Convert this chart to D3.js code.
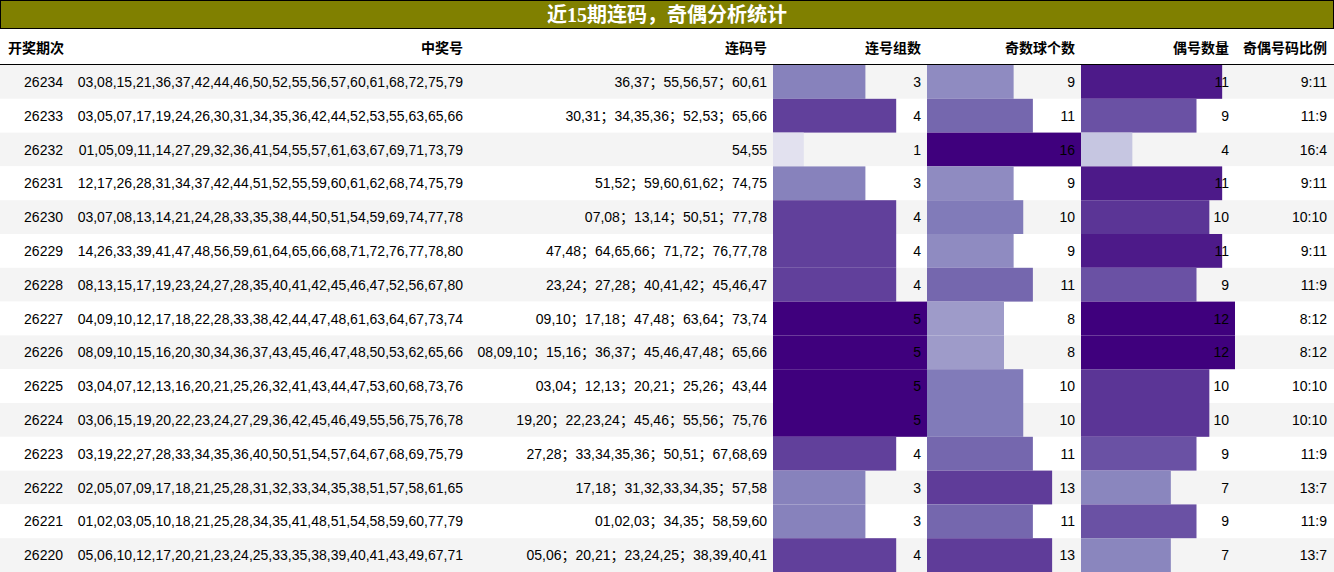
<!DOCTYPE html>
<html><head><meta charset="utf-8">
<script src="https://cdn.jsdelivr.net/npm/d3@7"></script>
<style>
body{margin:0;background:#fff;}
text{font-family:"Liberation Sans","Noto Sans CJK SC",sans-serif;font-size:14px;fill:#000;}
</style></head>
<body><svg id="chart" width="1334" height="572"></svg>
<script>
var periods = [26234,26233,26232,26231,26230,26229,26228,26227,26226,26225,26224,26223,26222,26221,26220];
var draws = [
  "03,08,15,21,36,37,42,44,46,50,52,55,56,57,60,61,68,72,75,79",
  "03,05,07,17,19,24,26,30,31,34,35,36,42,44,52,53,55,63,65,66",
  "01,05,09,11,14,27,29,32,36,41,54,55,57,61,63,67,69,71,73,79",
  "12,17,26,28,31,34,37,42,44,51,52,55,59,60,61,62,68,74,75,79",
  "03,07,08,13,14,21,24,28,33,35,38,44,50,51,54,59,69,74,77,78",
  "14,26,33,39,41,47,48,56,59,61,64,65,66,68,71,72,76,77,78,80",
  "08,13,15,17,19,23,24,27,28,35,40,41,42,45,46,47,52,56,67,80",
  "04,09,10,12,17,18,22,28,33,38,42,44,47,48,61,63,64,67,73,74",
  "08,09,10,15,16,20,30,34,36,37,43,45,46,47,48,50,53,62,65,66",
  "03,04,07,12,13,16,20,21,25,26,32,41,43,44,47,53,60,68,73,76",
  "03,06,15,19,20,22,23,24,27,29,36,42,45,46,49,55,56,75,76,78",
  "03,19,22,27,28,33,34,35,36,40,50,51,54,57,64,67,68,69,75,79",
  "02,05,07,09,17,18,21,25,28,31,32,33,34,35,38,51,57,58,61,65",
  "01,02,03,05,10,18,21,25,28,34,35,41,48,51,54,58,59,60,77,79",
  "05,06,10,12,17,20,21,23,24,25,33,35,38,39,40,41,43,49,67,71"
];
var runs = [
  "36,37；55,56,57；60,61","30,31；34,35,36；52,53；65,66","54,55","51,52；59,60,61,62；74,75",
  "07,08；13,14；50,51；77,78","47,48；64,65,66；71,72；76,77,78","23,24；27,28；40,41,42；45,46,47",
  "09,10；17,18；47,48；63,64；73,74","08,09,10；15,16；36,37；45,46,47,48；65,66",
  "03,04；12,13；20,21；25,26；43,44","19,20；22,23,24；45,46；55,56；75,76",
  "27,28；33,34,35,36；50,51；67,68,69","17,18；31,32,33,34,35；57,58","01,02,03；34,35；58,59,60",
  "05,06；20,21；23,24,25；38,39,40,41"
];
var runCount = [3,4,1,3,4,4,4,5,5,5,5,4,3,3,4];
var oddCount = [9,11,16,9,10,9,11,8,8,10,10,11,13,11,13];
var evenCount = [11,9,4,11,10,11,9,12,12,10,10,9,7,9,7];
var ratios = ["9:11","11:9","16:4","9:11","10:10","9:11","11:9","8:12","8:12","10:10","10:10","11:9","13:7","11:9","13:7"];
var headers = ["开奖期次","中奖号","连码号","连号组数","奇数球个数","偶号数量","奇偶号码比例"];

var svg = d3.select("#chart");
var W = 1334, top0 = 65, rowH = (572 - 65) / 15;
var y = d3.scaleBand().domain(d3.range(15)).range([top0, top0 + rowH * 15]);

// title
svg.append("rect").attr("x", 0.5).attr("y", 0.5).attr("width", W - 1).attr("height", 28)
  .attr("fill", "#808000").attr("stroke", "#000");
svg.append("text").attr("x", W / 2).attr("y", 22).attr("text-anchor", "middle")
  .style("font-family", "'Liberation Serif','Noto Sans CJK SC',serif").style("font-size", "20px")
  .style("font-weight", "bold").style("fill", "#fff").text("近15期连码，奇偶分析统计");

// row backgrounds
svg.selectAll(".bg").data(periods).enter().append("rect")
  .attr("x", 0).attr("width", W).attr("y", function(d, i) { return y(i); }).attr("height", y.bandwidth())
  .attr("fill", function(d, i) { return i % 2 == 0 ? "#f4f4f4" : "#fff"; });

// header
var hx = [63, 463, 767, 921, 1075, 1229, 1327];
svg.selectAll(".hd").data(headers).enter().append("text")
  .attr("x", function(d, i) { return hx[i]; }).attr("y", 53)
  .attr("text-anchor", function(d, i) { return i == 0 ? "start" : "end"; })
  .attr("x", function(d, i) { return i == 0 ? 8 : hx[i]; })
  .style("font-weight", "bold").text(function(d) { return d; });
svg.append("line").attr("x1", 0).attr("x2", W).attr("y1", 64.5).attr("y2", 64.5).attr("stroke", "#000");

// bar columns
var bars = [
  {vals: runCount, x0: 773, tx: 921},
  {vals: oddCount, x0: 927, tx: 1075},
  {vals: evenCount, x0: 1081, tx: 1229}
];
bars.forEach(function(b) {
  var mx = d3.max(b.vals);
  var w = d3.scaleLinear().domain([0, mx]).range([0, 154]);
  svg.selectAll(null).data(b.vals).enter().append("rect")
    .attr("x", b.x0).attr("y", function(d, i) { return y(i); })
    .attr("width", function(d) { return w(d); }).attr("height", y.bandwidth())
    .attr("fill", function(d) { return d3.interpolatePurples(d / mx); });
  svg.selectAll(null).data(b.vals).enter().append("text")
    .attr("x", b.tx).attr("y", function(d, i) { return y(i) + y.bandwidth() / 2 + 5; })
    .attr("text-anchor", "end").text(function(d) { return d; });
});

// text columns
var cols = [[periods, 63], [draws, 463], [runs, 767], [ratios, 1327]];
cols.forEach(function(c) {
  svg.selectAll(null).data(c[0]).enter().append("text")
    .attr("x", c[1]).attr("y", function(d, i) { return y(i) + y.bandwidth() / 2 + 5; })
    .attr("text-anchor", "end").text(function(d) { return d; });
});
</script></body></html>
